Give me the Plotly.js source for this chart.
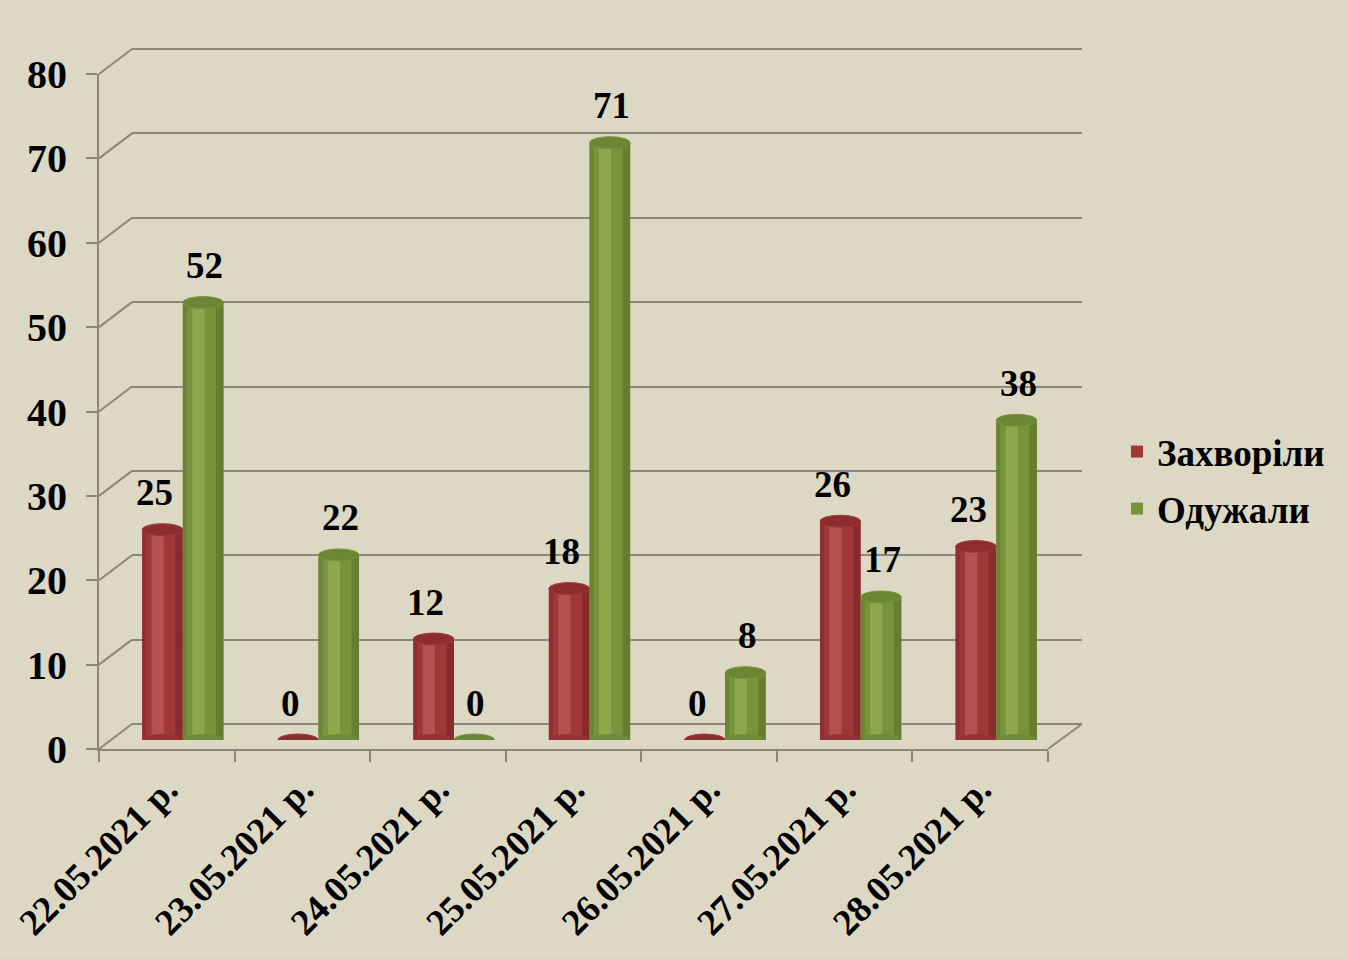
<!DOCTYPE html>
<html>
<head>
<meta charset="utf-8">
<script src="https://cdn.plot.ly/plotly-3.0.1.min.js"></script>
<style>html,body{margin:0;padding:0;background:#DDD8C4;}#chart{width:1348px;height:959px;}</style>
</head>
<body>
<div id="chart"></div>
<script>
// ---- data ----
const categories = ['22.05.2021 р.', '23.05.2021 р.', '24.05.2021 р.', '25.05.2021 р.', '26.05.2021 р.', '27.05.2021 р.', '28.05.2021 р.'];
const sick = [25, 0, 12, 18, 0, 26, 23];        // Захворіли
const recovered = [52, 22, 0, 71, 8, 17, 38];   // Одужали
const seriesNames = ['Захворіли', 'Одужали'];
const yTicks = [0, 10, 20, 30, 40, 50, 60, 70, 80];

// ---- geometry helpers (pixel -> paper) ----
const W = 1348, H = 959;
const X = px => px / W;
const Y = py => 1 - py / H;
const FAM = 'Liberation Serif, Times New Roman, serif';
const FONT = {family: FAM, size: 37, color: '#000', weight: 'bold'};
const YFONT = {family: FAM, size: 40, color: '#000', weight: 'bold'};
const LINE = '#8C877C';

const redBase = '#A0383A', redLight = '#BE5A5A', redDark = '#7E2628', redTop = '#8C2E30', redBottom = '#943335';
const grnBase = '#77933C', grnLight = '#93AE52', grnDark = '#5C7629', grnTop = '#6B8733', grnBottom = '#6F8B37';
const BW = 0.3;

function barSet(vals, name, base, light, dark, off) {
  return [
    {type: 'bar', x: categories, y: vals, name: name, xaxis: 'x3', yaxis: 'y3',
     offset: off, width: BW, marker: {color: base, line: {width: 0}}, legendgroup: name, showlegend: true},
    {type: 'bar', x: categories, y: vals, xaxis: 'x3', yaxis: 'y3', hoverinfo: 'skip',
     offset: off + 0.07, width: 0.09, marker: {color: light, opacity: 0.75, line: {width: 0}}, legendgroup: name, showlegend: false},
    {type: 'bar', x: categories, y: vals, xaxis: 'x3', yaxis: 'y3', hoverinfo: 'skip',
     offset: off + 0.245, width: 0.055, marker: {color: dark, opacity: 0.7, line: {width: 0}}, legendgroup: name, showlegend: false},
    {type: 'bar', x: categories, y: vals, xaxis: 'x3', yaxis: 'y3', hoverinfo: 'skip',
     offset: off, width: 0.03, marker: {color: dark, opacity: 0.5, line: {width: 0}}, legendgroup: name, showlegend: false}
  ];
}

const traces = [
  // helper traces to activate back-wall and front axes
  {type: 'scatter', x: categories, y: categories.map(() => null), xaxis: 'x', yaxis: 'y', showlegend: false, hoverinfo: 'skip'},
  {type: 'scatter', x: categories, y: categories.map(() => null), xaxis: 'x2', yaxis: 'y2', showlegend: false, hoverinfo: 'skip'},
  ...barSet(sick, seriesNames[0], redBase, redLight, redDark, -BW),
  ...barSet(recovered, seriesNames[1], grnBase, grnLight, grnDark, 0)
];

// value labels
const annotations = [];
categories.forEach((c, i) => {
  annotations.push({x: c, y: sick[i], xref: 'x3', yref: 'y3', text: String(sick[i]), showarrow: false,
    xshift: -28, yshift: 37, font: FONT});
  annotations.push({x: c, y: recovered[i], xref: 'x3', yref: 'y3', text: String(recovered[i]), showarrow: false,
    xshift: 22, yshift: 37, font: FONT});
});

// perspective connectors (left wall) from front ticks to back gridlines
const FRONT0 = 749, BACK0 = 724, PXU = (749 - 74) / 80;
const shapes = yTicks.map(v => ({
  type: 'line', xref: 'paper', yref: 'paper',
  x0: X(99), y0: Y(FRONT0 - v * PXU), x1: X(132), y1: Y(BACK0 - v * PXU),
  line: {color: LINE, width: 2}
}));
// right floor connector
shapes.push({type: 'line', xref: 'paper', yref: 'paper', x0: X(1048), y0: Y(FRONT0), x1: X(1082), y1: Y(BACK0),
  line: {color: LINE, width: 2}});

// cylinder caps (tops and bottoms), anchored to data values
function caps(vals, off, bottom, base, top) {
  vals.forEach((v, i) => {
    if (v > 0) {
      shapes.push({type: 'circle', xref: 'x3', yref: 'y3', ysizemode: 'pixel', yanchor: 0,
        x0: i + off, x1: i + off + BW, y0: -6, y1: 6, layer: 'above',
        fillcolor: bottom, line: {width: 0}});
    }
    shapes.push({type: 'circle', xref: 'x3', yref: 'y3', ysizemode: 'pixel', yanchor: v,
      x0: i + off, x1: i + off + BW, y0: -6, y1: 6, layer: 'above',
      fillcolor: top, line: {width: 1, color: base}});
  });
}
caps(sick, -BW, redBottom, redBase, redTop);
caps(recovered, 0, grnBottom, grnBase, grnTop);

const layout = {
  width: W, height: H,
  margin: {l: 0, r: 0, t: 0, b: 0},
  paper_bgcolor: '#DDD8C4', plot_bgcolor: 'rgba(0,0,0,0)',
  barmode: 'overlay',
  font: FONT,
  // back wall gridlines
  xaxis: {domain: [X(132), X(1082)], anchor: 'y', type: 'category', range: [-0.5, 6.5],
    showgrid: false, showline: false, showticklabels: false, ticks: '', zeroline: false},
  yaxis: {domain: [Y(BACK0 + PXU), Y(BACK0 - 81 * PXU)], anchor: 'x', range: [-1, 81], dtick: 10, tick0: 0,
    showgrid: true, gridcolor: LINE, gridwidth: 2, zeroline: true, zerolinecolor: LINE, zerolinewidth: 2,
    showticklabels: false, ticks: '', showline: false},
  // front axes
  xaxis2: {domain: [X(99), X(1048)], anchor: 'y2', type: 'category', range: [-0.5, 6.5],
    showgrid: false, showline: true, linecolor: LINE, linewidth: 2, zeroline: false,
    ticks: 'outside', tickson: 'boundaries', ticklen: 11, tickcolor: LINE, tickwidth: 2,
    tickangle: -45, tickfont: FONT, ticklabelstandoff: 2},
  yaxis2: {domain: [Y(749), Y(74)], anchor: 'x2', range: [0, 80], dtick: 10, tick0: 0,
    showgrid: false, zeroline: false, showline: true, linecolor: LINE, linewidth: 2,
    ticks: 'outside', ticklen: 11, tickcolor: LINE, tickwidth: 2, tickfont: YFONT, ticklabelstandoff: 11},
  // bars
  xaxis3: {domain: [X(115), X(1064)], anchor: 'y3', type: 'category', range: [-0.5, 6.5],
    visible: false, showgrid: false, zeroline: false},
  yaxis3: {domain: [Y(740), Y(67)], anchor: 'x3', range: [0, 80], visible: false, showgrid: false, zeroline: false},
  legend: {x: X(1117), y: Y(421), xanchor: 'left', yanchor: 'top', bgcolor: 'rgba(0,0,0,0)',
    font: {family: FAM, size: 37, color: '#000', weight: 'bold'}, tracegroupgap: 6,
    traceorder: 'grouped'},
  showlegend: true,
  annotations: annotations,
  shapes: shapes
};

Plotly.newPlot('chart', traces, layout, {displayModeBar: false, staticPlot: true});
</script>
</body>
</html>
